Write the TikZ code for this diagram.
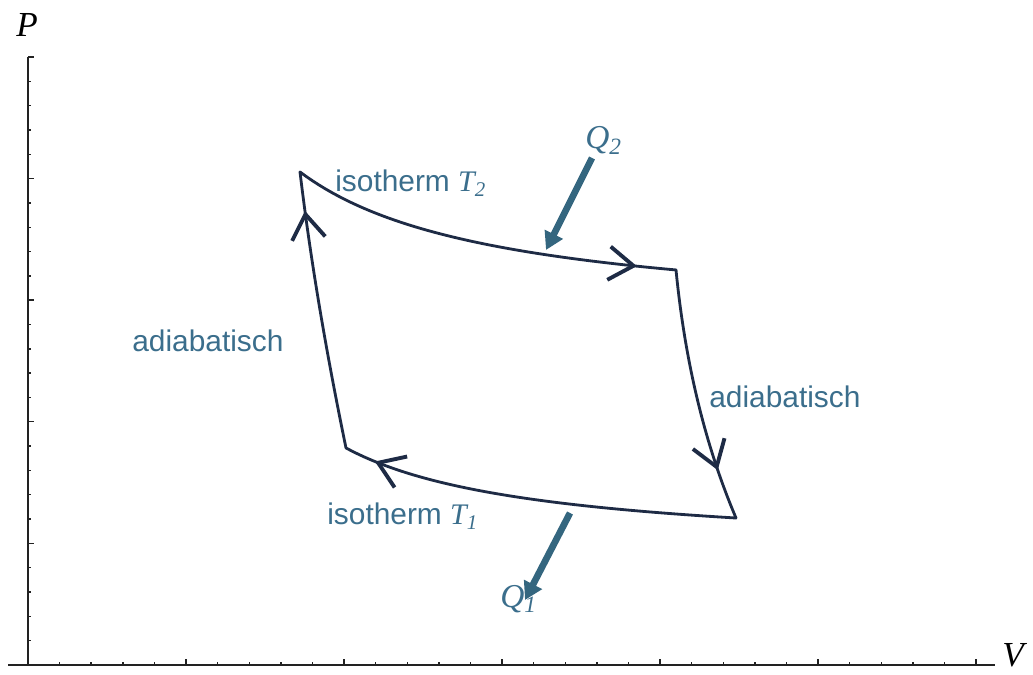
\documentclass[tikz,border=0pt]{standalone}
\usepackage{fontspec}
\setmainfont{Liberation Sans}
\newfontfamily\serif{Liberation Serif}
\definecolor{Cyclecol}{HTML}{1E2B45}
\definecolor{Labelcol}{HTML}{3B6E8C}
\definecolor{Heatcol}{HTML}{34667F}
\definecolor{Axiscol}{HTML}{222222}
\usetikzlibrary{arrows.meta, decorations.markings}
\tikzset{
    >=Stealth,
    cycleline/.style={Cyclecol, line width=1.6pt, line cap=round, line join=round},
    midarrow/.style={postaction={decorate}, decoration={markings,
        mark=at position #1 with {\arrow{Straight Barb[length=14pt, width=19pt, line width=2.2pt]}}}},
    heat/.style={Heatcol, line width=3.8pt, -{Triangle[length=10pt, width=11pt]}},
    lab/.style={Labelcol, inner sep=0pt, font=\fontsize{17pt}{20pt}\selectfont},
    qlab/.style={Labelcol, inner sep=0pt, font=\fontsize{19pt}{22pt}\selectfont\serif\itshape},
    axlab/.style={black, inner sep=0pt, font=\fontsize{20pt}{22pt}\selectfont\serif\itshape},
    tick/.style={Axiscol, line width=0.8pt}
}

\begin{document}
\begin{tikzpicture}[x=0.02cm, y=0.02cm]
    \useasboundingbox (0,0) rectangle (1033,675);

    % Axes
    \coordinate (O) at (28,10);
    \draw[Axiscol, line width=1.1pt] (8,10) -- (995,10);
    \draw[Axiscol, line width=1.1pt] (O) -- (28,618);
    \foreach \k in {1,...,30}{
        \pgfmathsetmacro{\len}{ifthenelse(mod(\k,5)==0,6,3)}
        \draw[tick] (28+\k*31.6,10) -- ++(0,\len);
    }
    \foreach \k in {1,...,25}{
        \pgfmathsetmacro{\len}{ifthenelse(mod(\k,5)==0,6,3)}
        \draw[tick] (28,10+\k*24.32) -- ++(\len,0);
    }
    \node[axlab, anchor=base west] (pLabel) at (16,638) {P};
    \node[axlab, anchor=base west] (vLabel) at (1002,8) {V};

    % Corners of the cycle
    \coordinate (A) at (300,503);
    \coordinate (B) at (676,405);
    \coordinate (C) at (736,157);
    \coordinate (D) at (346,227);

    % Isotherm T2 (A -> B): P = a + b/(V - c)
    \draw[cycleline, midarrow=0.9] plot[domain=300:676, samples=60] (\x, {352.9+300.28/(\x/100-1)});
    % Adiabat (B -> C)
    \draw[cycleline, midarrow=0.8] (B) .. controls (685,313) and (705,230) .. (C);
    % Isotherm T1 (C -> D)
    \draw[cycleline, midarrow=0.92] plot[domain=736:346, samples=60] (\x, {121.8+206.19/(\x/100-1.5)});
    % Adiabat (D -> A)
    \draw[cycleline, midarrow=0.86] (D) .. controls (327,319) and (311,411) .. (A);

    % Labels
    \node[lab, anchor=base west] (isoHot) at (335,483) {isotherm {\serif\itshape T\textsubscript{2}}};
    \node[lab, anchor=base west] (isoCold) at (327,150) {isotherm {\serif\itshape T\textsubscript{1}}};
    \node[lab, anchor=base west] (adiaLeft) at (132,323) {adiabatisch};
    \node[lab, anchor=base west] (adiaRight) at (709,267) {adiabatisch};

    % Heat flow
    \coordinate (q2s) at (592,517);
    \coordinate (q2e) at (546,425);
    \coordinate (q1s) at (570,162);
    \coordinate (q1e) at (525,75);
    \draw[heat] (q2s) -- (q2e);
    \draw[heat] (q1s) -- (q1e);
    \node[qlab, anchor=base west] (qHot) at (585,526) {Q\textsubscript{2}};
    \node[qlab, anchor=base west] (qCold) at (500,67) {Q\textsubscript{1}};
\end{tikzpicture}
\end{document}
